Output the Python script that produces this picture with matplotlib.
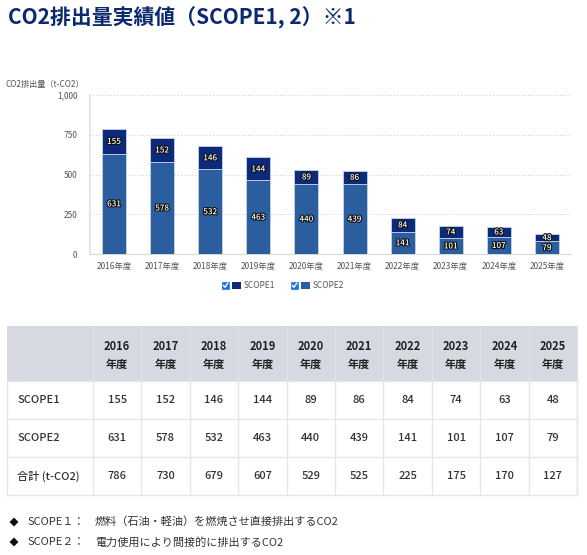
import matplotlib
matplotlib.use("Agg")
import matplotlib.pyplot as plt
import matplotlib.patheffects as pe
from matplotlib.patches import Rectangle, Polygon

plt.rcParams['font.family'] = ['Noto Sans CJK JP', 'DejaVu Sans']

years = [2016, 2017, 2018, 2019, 2020, 2021, 2022, 2023, 2024, 2025]
scope1 = [155, 152, 146, 144, 89, 86, 84, 74, 63, 48]
scope2 = [631, 578, 532, 463, 440, 439, 141, 101, 107, 79]
totals = [786, 730, 679, 607, 529, 525, 225, 175, 170, 127]
yticks = [0, 250, 500, 750, 1000]
ytick_labels = ["0", "250", "500", "750", "1,000"]

C1 = "#0b2a7c"
C2 = "#2b5e9f"
NAVY = "#0b2a6e"
W, H = 587, 555

fig = plt.figure(figsize=(W / 100, H / 100), dpi=100)


def px(x0, y0, x1, y1):
    # pixel box (top-left origin) -> figure fraction rect
    return [x0 / W, 1 - y1 / H, (x1 - x0) / W, (y1 - y0) / H]


# --- bar chart ---
ax = fig.add_axes(px(90, 95, 571, 254))
xs = list(range(len(years)))
ax.bar(xs, scope2, width=0.5, color=C2, edgecolor="#c8d3e6", linewidth=0.6, zorder=3)
ax.bar(xs, scope1, width=0.5, bottom=scope2, color=C1, edgecolor="#c8d3e6",
       linewidth=0.6, zorder=3)
outline = [pe.withStroke(linewidth=1.6, foreground="#111111")]
for x, s1, s2 in zip(xs, scope1, scope2):
    ax.text(x, s2 / 2, str(s2), ha="center", va="center", fontsize=5.8, color="white",
            fontweight="medium", path_effects=outline, zorder=4)
    ax.text(x, s2 + s1 / 2, str(s1), ha="center", va="center", fontsize=5.8,
            color="white", fontweight="medium", path_effects=outline, zorder=4)
ax.set_xlim(-0.5, len(years) - 0.5)
ax.set_ylim(0, 1000)
ax.set_yticks(yticks)
ax.set_yticklabels(ytick_labels)
ax.set_xticks(xs)
ax.set_xticklabels([f"{y}年度" for y in years])
ax.tick_params(length=0, labelsize=6, colors="#555555", pad=6)
ax.tick_params(axis="y", pad=9)
ax.grid(axis="y", color="#cccccc", linestyle=(0, (1, 2)), linewidth=0.7, zorder=0)
for side in ("top", "right"):
    ax.spines[side].set_visible(False)
ax.spines["left"].set_color("#e0e0e0")
ax.spines["bottom"].set_color("#d8d8d8")
ax.spines["left"].set_linewidth(1.2)

# overlay in pixel coordinates for text, legend, table
ov = fig.add_axes([0, 0, 1, 1])
ov.set_xlim(0, W)
ov.set_ylim(H, 0)
ov.axis("off")
ov.patch.set_alpha(0)

ov.text(8, 18, "CO2排出量実績値（SCOPE1, 2）※1", fontsize=15, fontweight="bold",
        color=NAVY, va="center", ha="left")
ov.text(84, 84, "CO2排出量（t-CO2）", fontsize=5.9, color="#555555", ha="right",
        va="center")

# legend with checkboxes
for cx, col, lab in ((222, C1, "SCOPE1"), (291, C2, "SCOPE2")):
    ov.add_patch(Rectangle((cx, 282), 7, 7, facecolor="#1a73e8", edgecolor="#1a73e8",
                           lw=0.5))
    ov.plot([cx + 1.5, cx + 3, cx + 5.7], [285.5, 287.3, 283.3], color="white", lw=1.0)
    ov.add_patch(Rectangle((cx + 9.5, 282), 9, 7, facecolor=col, edgecolor="none"))
    ov.text(cx + 22, 285.5, lab, fontsize=6, color="#555555", va="center", ha="left")

# --- table ---
tl, tr = 7, 577
c0 = 93
cw = (tr - c0) / len(years)
rows_y = [326, 381, 419, 457, 495]
ov.add_patch(Rectangle((tl, rows_y[0]), tr - tl, rows_y[1] - rows_y[0],
                       facecolor="#d6d9e2", edgecolor="none"))
grid_col = "#e6e6e6"
for y in rows_y[1:]:
    ov.plot([tl, tr], [y, y], color=grid_col, lw=1.0)
for i in range(len(years) + 1):
    x = c0 + i * cw
    ov.plot([x, x], [rows_y[0], rows_y[1]], color="#dfe2e9", lw=1.0)
    ov.plot([x, x], [rows_y[1], rows_y[-1]], color=grid_col, lw=1.0)
ov.plot([tl, tl], [rows_y[1], rows_y[-1]], color=grid_col, lw=1.0)
ov.plot([tr, tr], [rows_y[1], rows_y[-1]], color=grid_col, lw=1.0)

for i, y in enumerate(years):
    cx = c0 + (i + 0.5) * cw
    ov.text(cx, 346, str(y), fontsize=8, fontweight="bold", color="#222222",
            ha="center", va="center")
    ov.text(cx, 364, "年度", fontsize=8, fontweight="bold", color="#222222",
            ha="center", va="center")

row_labels = ["SCOPE1", "SCOPE2", "合計 (t-CO2)"]
for r, (lab, vals) in enumerate(zip(row_labels, (scope1, scope2, totals))):
    cy = (rows_y[r + 1] + rows_y[r + 2]) / 2
    ov.text(17, cy, lab, fontsize=8, color="#333333", ha="left", va="center",
            fontweight="medium")
    for i, v in enumerate(vals):
        ov.text(c0 + (i + 0.5) * cw, cy, str(v), fontsize=8, color="#333333",
                ha="center", va="center", fontweight="medium")

# footnotes
notes = [("SCOPE１：", "燃料（石油・軽油）を燃焼させ直接排出するCO2"),
         ("SCOPE２：", "電力使用により間接的に排出するCO2")]
for k, (a, b) in enumerate(notes):
    y = 522 + k * 20
    ov.add_patch(Polygon([(14, y - 4.5), (18.5, y), (14, y + 4.5), (9.5, y)],
                         closed=True, facecolor="#111111", edgecolor="none"))
    ov.text(28, y, a, fontsize=8, color="#333333", ha="left", va="center")
    ov.text(95, y, b, fontsize=8, color="#333333", ha="left", va="center")

fig.savefig("out.png", dpi=100)
